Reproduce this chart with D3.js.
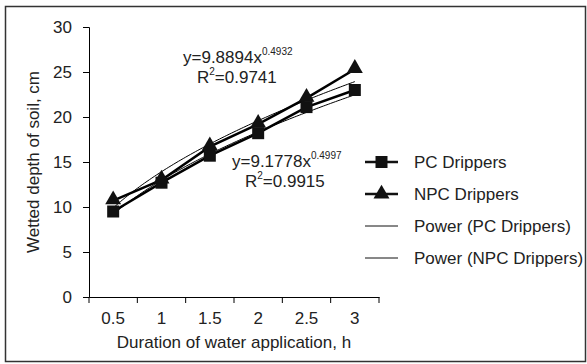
<!DOCTYPE html>
<head>
  <meta charset="utf-8" />
  <title>Wetted depth</title>
  <style>
    body { margin: 0; background: #fff; }
    text { font-family: "Liberation Sans", Arial, sans-serif; fill: #222; }
  </style>
</head>
<body>
  <script src="https://cdn.jsdelivr.net/npm/d3@7"></script>
  <script>
    // data
    var durations = ["0.5", "1", "1.5", "2", "2.5", "3"];
    var pcDepth = [9.5, 12.7, 15.7, 18.2, 21.1, 23.0];
    var npcDepth = [10.7, 13.0, 16.7, 19.2, 22.1, 25.3];
    var yTicks = [0, 5, 10, 15, 20, 25, 30];
    // power fits y = a * x^b, x = category index 1..6
    var pcFit = { a: 9.1778, b: 0.4997, r2: "0.9915" };
    var npcFit = { a: 9.8894, b: 0.4932, r2: "0.9741" };

    var width = 587, height = 364;
    var svg = d3.select("body").append("svg")
      .attr("width", width).attr("height", height);

    svg.append("rect")
      .attr("x", 5.5).attr("y", 6.5)
      .attr("width", 580).attr("height", 355)
      .attr("fill", "none").attr("stroke", "#333").attr("stroke-width", 1.5);

    var pLeft = 89, pRight = 379, pTop = 27, pBottom = 297;
    var fs = "17px";

    var x = d3.scaleBand().domain(durations).range([pLeft, pRight]);
    var y = d3.scaleLinear().domain([0, 30]).range([pBottom, pTop]);
    var xi = function (i) { return x(durations[i]) + x.bandwidth() / 2; };

    // y axis
    var yAxis = svg.append("g")
      .attr("transform", "translate(" + pLeft + ",0)")
      .call(d3.axisLeft(y).tickValues(yTicks).tickSize(6).tickPadding(11));
    yAxis.selectAll("text").style("font-size", fs);

    // x axis, ticks between categories
    var xAxis = svg.append("g")
      .attr("transform", "translate(0," + pBottom + ")")
      .call(d3.axisBottom(x).tickSize(0).tickPadding(15));
    xAxis.selectAll("text").style("font-size", fs);
    xAxis.selectAll(".bound")
      .data(d3.range(durations.length + 1))
      .enter().append("line")
      .attr("x1", function (i) { return pLeft + i * x.step(); })
      .attr("x2", function (i) { return pLeft + i * x.step(); })
      .attr("y1", 0).attr("y2", 6)
      .attr("stroke", "#000");
    svg.selectAll(".domain").attr("stroke", "#000");

    // axis titles
    svg.append("text")
      .attr("transform", "translate(39," + (pTop + pBottom) / 2 + ") rotate(-90)")
      .attr("text-anchor", "middle")
      .style("font-size", fs)
      .text("Wetted depth of soil, cm");
    svg.append("text")
      .attr("x", (pLeft + pRight) / 2).attr("y", 348)
      .attr("text-anchor", "middle")
      .style("font-size", fs)
      .text("Duration of water application, h");

    // power trend lines
    function drawFit(f) {
      var pts = d3.range(1, 6.001, 0.05).map(function (t) {
        return [pLeft + (t - 0.5) * x.step(), y(f.a * Math.pow(t, f.b))];
      });
      svg.append("path")
        .attr("d", d3.line()(pts))
        .attr("fill", "none").attr("stroke", "#000").attr("stroke-width", 1);
    }
    drawFit(pcFit);
    drawFit(npcFit);

    // data lines
    var line = d3.line()
      .x(function (d, i) { return xi(i); })
      .y(function (d) { return y(d); });
    svg.append("path").attr("d", line(pcDepth))
      .attr("fill", "none").attr("stroke", "#000").attr("stroke-width", 2.5);
    svg.append("path").attr("d", line(npcDepth))
      .attr("fill", "none").attr("stroke", "#000").attr("stroke-width", 2.5);

    var sq = d3.symbol().type(d3.symbolSquare).size(144);
    var tri = d3.symbol().type(d3.symbolTriangle).size(110);
    svg.selectAll(".pc").data(pcDepth).enter().append("path")
      .attr("d", sq)
      .attr("transform", function (d, i) { return "translate(" + xi(i) + "," + y(d) + ")"; })
      .attr("fill", "#111");
    svg.selectAll(".npc").data(npcDepth).enter().append("path")
      .attr("d", tri)
      .attr("transform", function (d, i) { return "translate(" + xi(i) + "," + (y(d) - 1) + ")"; })
      .attr("fill", "#111");

    // equations
    function equation(f, lx, by, rx, rby) {
      var t = svg.append("text").attr("x", lx).attr("y", by).style("font-size", fs);
      t.append("tspan").text("y=" + f.a + "x");
      t.append("tspan").attr("dy", -8).style("font-size", "10px").text(f.b);
      var r = svg.append("text").attr("x", rx).attr("y", rby).style("font-size", fs);
      r.append("tspan").text("R");
      r.append("tspan").attr("dy", -8).style("font-size", "10px").text("2");
      r.append("tspan").attr("dy", 8).text("=" + f.r2);
    }
    equation(npcFit, 183, 63, 197, 83);
    equation(pcFit, 232, 167, 245, 187);

    // legend
    var legend = [
      { name: "PC Drippers", w: 2.5, sym: sq },
      { name: "NPC Drippers", w: 2.5, sym: tri },
      { name: "Power (PC Drippers)", w: 1, sym: null },
      { name: "Power (NPC Drippers)", w: 1, sym: null }
    ];
    var lg = svg.selectAll(".lg").data(legend).enter().append("g")
      .attr("transform", function (d, i) { return "translate(365," + (162 + i * 32) + ")"; });
    lg.append("line").attr("x1", 0).attr("x2", 33).attr("y1", 0).attr("y2", 0)
      .attr("stroke", "#111").attr("stroke-width", function (d) { return d.w; });
    lg.filter(function (d) { return d.sym; }).append("path")
      .attr("d", function (d) { return d.sym(); })
      .attr("transform", "translate(16.5,0)").attr("fill", "#111");
    lg.append("text").attr("x", 49).attr("y", 6)
      .style("font-size", fs)
      .text(function (d) { return d.name; });
  </script>
</body>
